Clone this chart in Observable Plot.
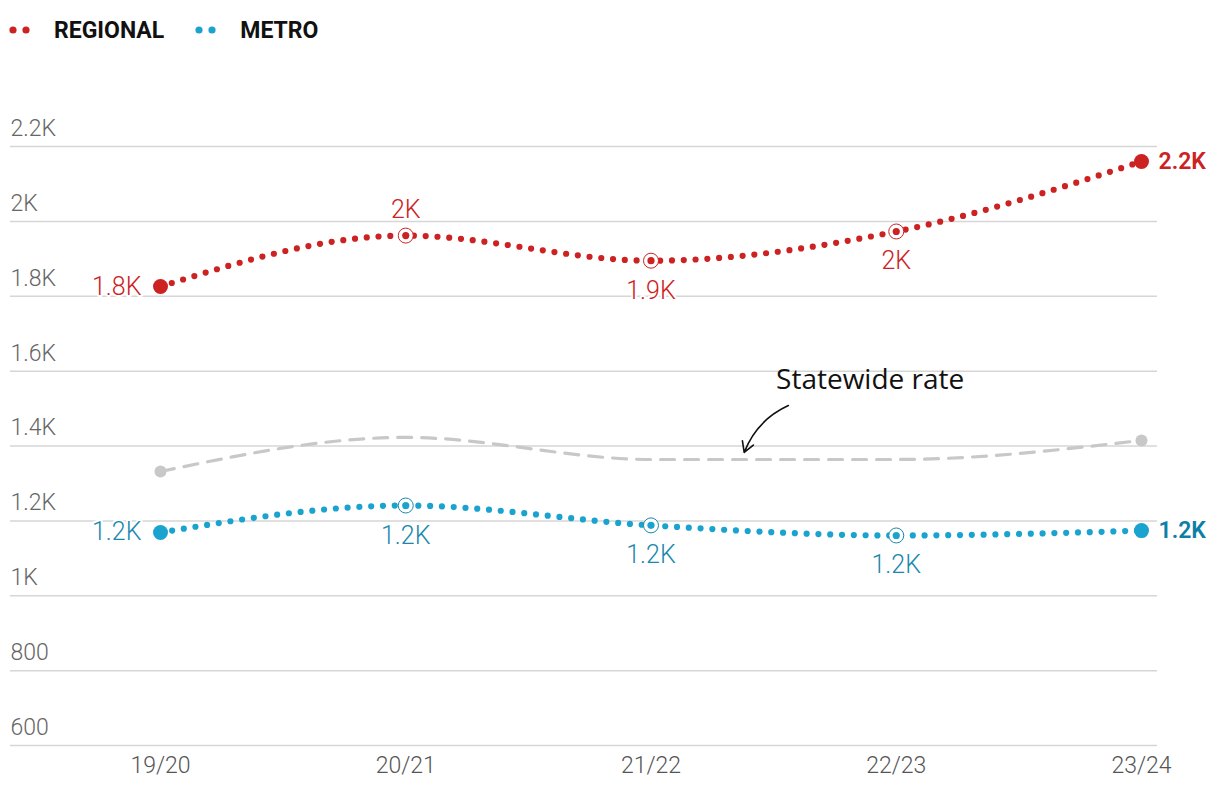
<!DOCTYPE html>
<html>
<head>
<meta charset="utf-8">
<script src="https://cdn.jsdelivr.net/npm/d3@7"></script>
<script src="https://cdn.jsdelivr.net/npm/@observablehq/plot@0.6"></script>
<style>
  body { margin: 0; background: #fff; font-family: Roboto, sans-serif; }
  #legend { height: 60px; display: flex; align-items: center; padding-left: 8px; }
  .item { display: flex; align-items: center; margin-right: 30px; font-weight: 700; font-size: 23px; color: #111; }
  .item svg { margin-right: 22px; }
</style>
</head>
<body>
<div id="legend"></div>
<div id="chart"></div>
<script>
const years = ["19/20", "20/21", "21/22", "22/23", "23/24"];
const regional = [1826, 1962, 1895, 1973, 2160];
const metro = [1169, 1241, 1188, 1161, 1174];
const statewide = [1332, 1423, 1364, 1364, 1415];
const yTicks = [600, 800, 1000, 1200, 1400, 1600, 1800, 2000, 2200];
const seriesNames = ["REGIONAL", "METRO"];
const annotationText = ["Statewide rate"];
const annotationPos = {x: 2.51, y: 1575};
const arrowPos = {x1: 2.56, y1: 1508, x2: 2.38, y2: 1383};

const RED = "#cc2222", BLUE = "#1ba3d0", BLUE_TXT = "#1a88ad", BLUE_END = "#0c7fa6", GRAY = "#c8c8c8";

// legend
const legend = document.getElementById("legend");
[[seriesNames[0], RED], [seriesNames[1], BLUE]].forEach(([name, c]) => {
  const it = document.createElement("div");
  it.className = "item";
  it.innerHTML = `<svg width="24" height="10"><circle cx="5" cy="5" r="3.6" fill="${c}"/><circle cx="18" cy="5" r="3.6" fill="${c}"/></svg>${name}`;
  legend.appendChild(it);
});

const fmt = v => (v / 1000).toFixed(1).replace(/\.0$/, "") + "K";
const mk = (vals) => vals.map((v, i) => ({i, year: years[i], v}));
const R = mk(regional), M = mk(metro), S = mk(statewide);

// label placement per point (style config)
const regPlace = ["left", "top", "bottom", "bottom", "right"];
const metPlace = ["left", "bottom", "bottom", "bottom", "right"];
const offs = {left: {dx: -19, dy: 0, anchor: "end"}, right: {dx: 17, dy: 0, anchor: "start"},
              top: {dx: 0, dy: -26, anchor: "middle"}, bottom: {dx: 0, dy: 30, anchor: "middle"}};

function labelMarks(data, place, color, endColor) {
  return data.map((d, k) => {
    const o = offs[place[k]];
    const isEnd = k === data.length - 1;
    return Plot.text([d], {x: "i", y: "v", text: d => fmt(d.v), dx: o.dx, dy: o.dy, textAnchor: o.anchor,
      fill: isEnd ? endColor : color, fontSize: isEnd ? 23 : 25, fontWeight: isEnd ? 600 : 300,
      stroke: "white", strokeWidth: 4, paintOrder: "stroke"});
  });
}
const mid = d => d.i > 0 && d.i < years.length - 1;
const ends = d => d.i === 0 || d.i === years.length - 1;

const plot = Plot.plot({
  width: 1220,
  height: 732,
  marginLeft: 160,
  marginRight: 79,
  marginTop: 86,
  marginBottom: 47,
  style: {fontFamily: "Roboto, sans-serif", background: "white"},
  x: {type: "linear", domain: [0, years.length - 1], axis: null},
  y: {domain: [600, 2200], axis: null},
  marks: [
    Plot.ruleY(yTicks, {stroke: "#d6d6d6", strokeWidth: 1.5, insetLeft: -150, insetRight: -16}),
    Plot.text(yTicks, {y: d => d, text: d => d >= 1000 ? fmt(d) : String(d), frameAnchor: "left", textAnchor: "start",
      dx: -150, dy: -18, fill: "#666", fontSize: 23, fontWeight: 300}),
    Plot.text(years, {x: (d, i) => i, text: d => d, frameAnchor: "bottom", dy: 27, fill: "#555", fontSize: 23, fontWeight: 300}),
    // statewide
    Plot.line(S, {x: "i", y: "v", curve: "monotone-x", stroke: GRAY, strokeWidth: 3.2, strokeDasharray: "14 10"}),
    Plot.dot(S.filter(ends), {x: "i", y: "v", r: 6, fill: GRAY}),
    // regional
    Plot.line(R, {x: "i", y: "v", curve: "monotone-x", stroke: RED, strokeWidth: 6.2, strokeDasharray: "0 11.8", strokeLinecap: "round"}),
    Plot.dot(R.filter(mid), {x: "i", y: "v", r: 7.5, fill: "white", stroke: RED, strokeWidth: 1}),
    Plot.dot(R.filter(mid), {x: "i", y: "v", r: 3.6, fill: RED}),
    Plot.dot(R.filter(ends), {x: "i", y: "v", r: 7.5, fill: RED}),
    // metro
    Plot.line(M, {x: "i", y: "v", curve: "monotone-x", stroke: BLUE, strokeWidth: 6.2, strokeDasharray: "0 11.8", strokeLinecap: "round"}),
    Plot.dot(M.filter(mid), {x: "i", y: "v", r: 7.5, fill: "white", stroke: BLUE_TXT, strokeWidth: 1}),
    Plot.dot(M.filter(mid), {x: "i", y: "v", r: 3.6, fill: BLUE}),
    Plot.dot(M.filter(ends), {x: "i", y: "v", r: 7.5, fill: BLUE}),
    ...labelMarks(R, regPlace, RED, RED),
    ...labelMarks(M, metPlace, BLUE_TXT, BLUE_END),
    // annotation
    Plot.text(annotationText, {x: annotationPos.x, y: annotationPos.y, text: d => d, textAnchor: "start", fill: "#111", fontSize: 28, fontFamily: "Open Sans"}),
    Plot.arrow([arrowPos], {x1: "x1", y1: "y1", x2: "x2", y2: "y2", bend: -22, stroke: "#111", strokeWidth: 1.6, headLength: 11})
  ]
});
document.getElementById("chart").appendChild(plot);
</script>
</body>
</html>
